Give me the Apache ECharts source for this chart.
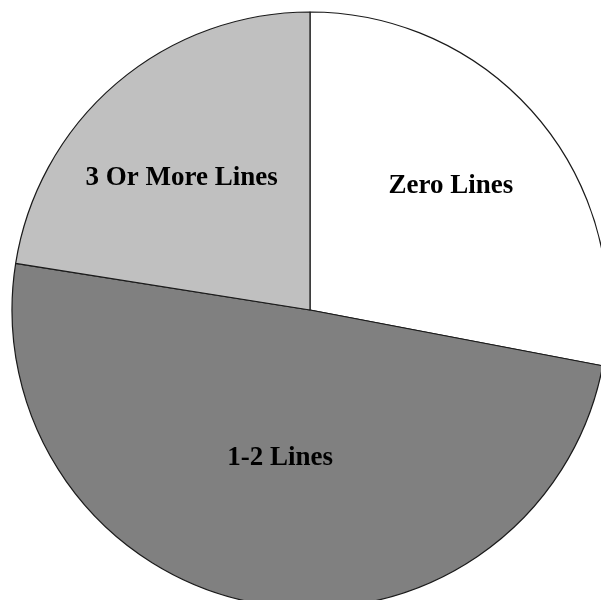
<!DOCTYPE html>
<html>
<head>
<meta charset="utf-8">
<script src="https://cdn.jsdelivr.net/npm/echarts@6/dist/echarts.min.js"></script>
<style>
  html, body { margin: 0; padding: 0; background: #ffffff; }
  #chart { width: 601px; height: 600px; }
</style>
</head>
<body>
<div id="chart"></div>
<script>
// Share of accounts by number of lines
const categories = ['Zero Lines', '1-2 Lines', '3 Or More Lines'];
const shares = [28.0, 49.5, 22.5];
const sliceColors = ['#ffffff', '#808080', '#c0c0c0'];

// Label anchor for each slice, as fractions of the radius from the centre (x right, y down)
const labelAnchors = [[0.473, -0.416], [-0.1, 0.498], [-0.431, -0.444]];

const centerX = 310, centerY = 310, radius = 298;

const chart = echarts.init(document.getElementById('chart'));
chart.setOption({
  backgroundColor: '#ffffff',
  animation: false,
  series: [{
    type: 'pie',
    center: [centerX, centerY],
    radius: [0, radius],
    startAngle: 90,
    clockwise: true,
    avoidLabelOverlap: false,
    emphasis: { disabled: true },
    itemStyle: { borderColor: '#1a1a1a', borderWidth: 1.2 },
    label: {
      show: true,
      position: 'inside',
      formatter: '{b}',
      color: '#000000',
      fontFamily: 'Liberation Serif',
      fontWeight: 'bold',
      fontSize: 27
    },
    labelLine: { show: false },
    labelLayout: function (params) {
      const a = labelAnchors[params.dataIndex];
      return {
        x: centerX + radius * a[0],
        y: centerY + radius * a[1],
        align: 'center',
        verticalAlign: 'middle'
      };
    },
    data: categories.map((name, i) => ({
      name: name,
      value: shares[i],
      itemStyle: { color: sliceColors[i] }
    }))
  }]
});
</script>
</body>
</html>
